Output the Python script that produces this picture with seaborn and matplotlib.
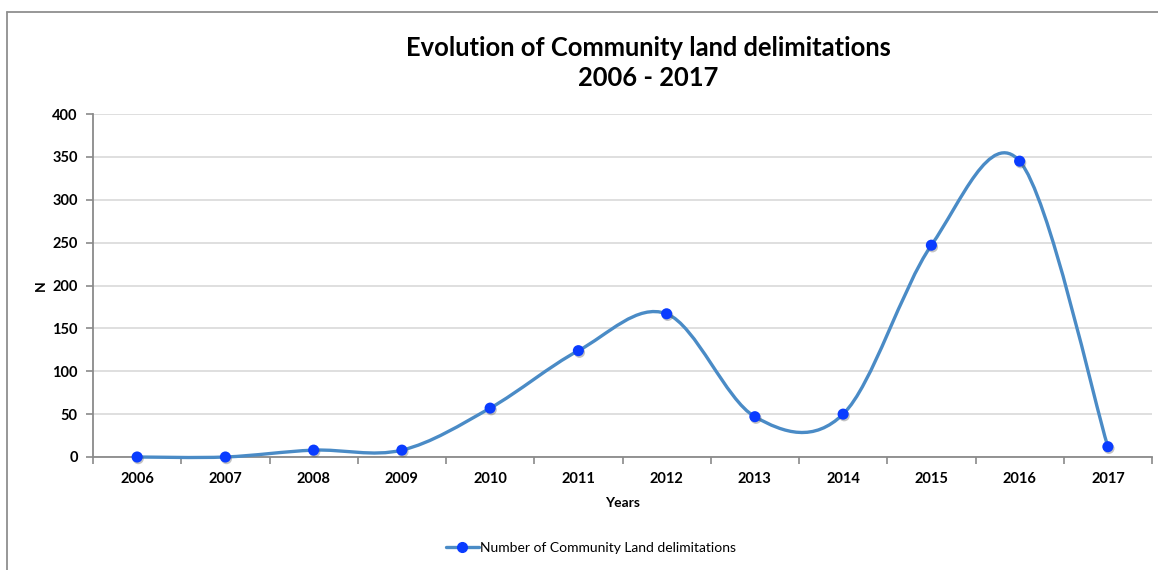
import numpy as np
import pandas as pd
import seaborn as sns
import matplotlib
matplotlib.use("Agg")
import matplotlib.pyplot as plt
from matplotlib.path import Path
from matplotlib.patches import PathPatch
from matplotlib.lines import Line2D
import matplotlib.patheffects as pe

# data
years = [2006, 2007, 2008, 2009, 2010, 2011, 2012, 2013, 2014, 2015, 2016, 2017]
delimitations = [0, 0, 8, 8, 57, 124, 167, 47, 50, 247, 345, 12]
y_ticks = [0, 50, 100, 150, 200, 250, 300, 350, 400]

title = "Evolution of Community land delimitations\n2006 - 2017"
series_name = "Number of Community Land delimitations"

df = pd.DataFrame({"pos": np.arange(len(years)), "year": years, "n": delimitations})

line_col = "#4a8bc6"
marker_col = "#0a3cff"
axis_col = "#8a8a8a"
grid_col = "#d9d9d9"

sns.set_theme(style="white")
plt.rcParams["font.family"] = ["Lato", "DejaVu Sans"]
plt.rcParams["text.color"] = "black"

fig = plt.figure(figsize=(11.58, 5.70), dpi=100)
ax = fig.add_axes([93 / 1158, 1 - 457 / 570, (1152 - 93) / 1158, (457 - 114) / 570])

# smoothed line (Excel style Catmull-Rom bezier)
pts = df[["pos", "n"]].to_numpy(dtype=float)
padded = np.vstack([pts[0], pts, pts[-1]])
verts = [tuple(pts[0])]
codes = [Path.MOVETO]
for i in range(len(pts) - 1):
    p_prev, p0, p1, p_next = padded[i], padded[i + 1], padded[i + 2], padded[i + 3]
    c1 = p0 + (p1 - p_prev) / 6
    c2 = p1 - (p_next - p0) / 6
    verts += [tuple(c1), tuple(c2), tuple(p1)]
    codes += [Path.CURVE4] * 3
curve = PathPatch(Path(verts, codes), facecolor="none", edgecolor=line_col,
                  lw=2.4, capstyle="round", joinstyle="round", clip_on=False, zorder=3)
ax.add_patch(curve)

# markers
sns.scatterplot(data=df, x="pos", y="n", ax=ax, s=64, color=marker_col,
                edgecolor=marker_col, linewidth=0, zorder=4, clip_on=False,
                legend=False)
for coll in ax.collections:
    coll.set_path_effects([pe.SimplePatchShadow(offset=(0.8, -1.2), shadow_rgbFace="#555555", alpha=0.35),
                           pe.Normal()])

ax.set_xlim(-0.5, len(years) - 0.5)
ax.set_ylim(0, 400)
ax.set_yticks(y_ticks)
ax.set_xticks(df["pos"])
ax.set_xticklabels([str(y) for y in years])
ax.set_xticks(np.arange(-0.5, len(years)), minor=True)

ax.yaxis.grid(True, color=grid_col, lw=1.2)
ax.set_axisbelow(True)
for side in ["top", "right"]:
    ax.spines[side].set_visible(False)
for side in ["left", "bottom"]:
    ax.spines[side].set_color(axis_col)
    ax.spines[side].set_linewidth(1.3)

ax.tick_params(axis="x", which="major", length=0, pad=11, labelsize=10.5, labelcolor="black")
ax.tick_params(axis="x", which="minor", length=5, width=1.2, color=axis_col, direction="out", bottom=True)
ax.tick_params(axis="y", length=5, width=1.2, color=axis_col, direction="out", left=True,
               pad=6, labelsize=10.5, labelcolor="black")
for lab in ax.get_xticklabels() + ax.get_yticklabels():
    lab.set_fontweight("bold")

ax.set_xlabel("Years", fontsize=10, fontweight="bold", labelpad=8, color="black")
ax.set_ylabel("N", fontsize=10, fontweight="bold", labelpad=4, color="black")

fig.text(648 / 1158, 1 - 63 / 570, title, ha="center", va="center", color="black",
         fontsize=18.4, fontweight="bold", linespacing=1.3)

handle = Line2D([], [], color=line_col, lw=2.4, marker="o", markersize=7,
                markerfacecolor=marker_col, markeredgecolor=marker_col)
fig.legend([handle], [series_name], loc="center", bbox_to_anchor=(591 / 1158, 1 - 548 / 570),
           frameon=False, fontsize=10, handlelength=2.4, handletextpad=0.1, borderaxespad=0)

# outer chart frame (left and top edges visible)
fig.add_artist(Line2D([7 / 1158, 7 / 1158], [0, 1 - 12 / 570], color="#8f8f8f", lw=1.3,
                      transform=fig.transFigure))
fig.add_artist(Line2D([7 / 1158, 1], [1 - 12 / 570, 1 - 12 / 570], color="#8f8f8f", lw=1.3,
                      transform=fig.transFigure))

fig.savefig("out.png", dpi=100)
